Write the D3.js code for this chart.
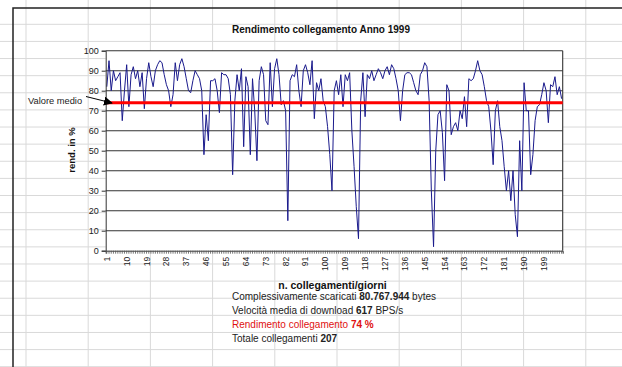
<!DOCTYPE html>
<html>
<head>
<meta charset="utf-8">
<script src="https://cdn.jsdelivr.net/npm/d3@7"></script>
<style>
  html, body { margin: 0; padding: 0; background: #fff; }
  svg { display: block; font-family: "Liberation Sans", Arial, sans-serif; }
</style>
</head>
<body>
<svg id="chart" width="622" height="367"></svg>
<script>
// ---- data ----
const categories = d3.range(1, 208); // 207 collegamenti/giorni
const rendimento = [
  82, 95, 80, 90, 85, 87, 89, 65, 80, 93,
  72, 88, 92, 86, 90, 82, 89, 71, 86, 94,
  87, 82, 90, 93, 95, 94, 88, 83, 80, 72,
  78, 94, 85, 93, 96, 92, 86, 80, 79, 85,
  90, 88, 86, 80, 48, 68, 55, 85, 85, 86,
  80, 69, 89, 88, 88, 86, 78, 38, 75, 88,
  80, 91, 52, 87, 82, 48, 86, 70, 45, 85,
  92, 88, 65, 63, 94, 72, 91, 96, 88, 73,
  75, 70, 15, 85, 88, 87, 93, 80, 72, 90,
  93, 89, 83, 95, 66, 84, 80, 86, 75, 72,
  62, 48, 30, 80, 85, 78, 88, 72, 88, 85,
  89, 60, 42, 22, 6, 75, 89, 67, 88, 86,
  90, 85, 88, 91, 89, 86, 90, 92, 88, 93,
  91, 86, 80, 65, 80, 88, 89, 89, 88, 84,
  80, 78, 88, 90, 94, 92, 75, 30, 2, 50,
  68, 70, 59, 35, 83, 80, 58, 62, 64, 60,
  70, 66, 77, 62, 86, 85, 86, 90, 95, 90,
  88, 82, 75, 72, 60, 43, 70, 75, 62, 55,
  42, 30, 40, 25, 40, 18, 7, 55, 30, 84,
  70, 70, 38, 48, 65, 72, 73, 78, 84, 80,
  64, 83, 82, 87, 78, 82, 76
];
const valoreMedio = 74;
const yTicks = [0, 10, 20, 30, 40, 50, 60, 70, 80, 90, 100];
const labelEvery = 9;
const titleText = "Rendimento collegamento Anno 1999";
const yTitle = "rend. in %";
const xTitle = "n. collegamenti/giorni";
const notes = [
  [["Complessivamente scaricati ", false], ["80.767.944", true], [" bytes", false]],
  [["Velocità media di download ", false], ["617", true], [" BPS/s", false]],
  [["Rendimento collegamento ", false], ["74 %", true]],
  [["Totale collegamenti ", false], ["207", true]]
];

// ---- drawing ----
const svg = d3.select("#chart");
const W = 622, H = 367;

// spreadsheet gridlines
const sheet = svg.append("g").attr("stroke", "#d9d9d9").attr("stroke-width", 1);
for (let k = 0; k < 10; k++) {
  const gx = 26 + k * 62.2;
  sheet.append("line").attr("x1", gx).attr("x2", gx).attr("y1", 0).attr("y2", H);
}
for (let k = 0; k <= 20; k++) {
  const gy = 24.3 + k * 17.12;
  sheet.append("line").attr("x1", 0).attr("x2", W).attr("y1", gy).attr("y2", gy);
}

// chart object frame (extends beyond the window)
svg.append("path")
  .attr("d", `M13,${H + 5} L13,8 L${W + 5},8`)
  .attr("fill", "none").attr("stroke", "#222").attr("stroke-width", 1.5);

const plot = { left: 105.7, right: 562.7, top: 50.7, bottom: 250.7 };
const x = d3.scaleBand().domain(categories).range([plot.left, plot.right]).padding(0);
const y = d3.scaleLinear().domain([0, 100]).range([plot.bottom, plot.top]);

// plot area background
svg.append("rect")
  .attr("x", plot.left).attr("y", plot.top)
  .attr("width", plot.right - plot.left).attr("height", plot.bottom - plot.top)
  .attr("fill", "#fff");

// value gridlines
svg.append("g").selectAll("line").data(yTicks.filter(d => d > 0)).join("line")
  .attr("x1", plot.left).attr("x2", plot.right)
  .attr("y1", d => y(d)).attr("y2", d => y(d))
  .attr("stroke", "#333").attr("stroke-width", 1.1);

// plot border (right side)
svg.append("line")
  .attr("x1", plot.right).attr("x2", plot.right)
  .attr("y1", plot.top).attr("y2", plot.bottom)
  .attr("stroke", "#333").attr("stroke-width", 1.1);

// data line
const line = d3.line()
  .x((d, i) => x(categories[i]) + x.bandwidth() / 2)
  .y(d => y(d));
svg.append("path").datum(rendimento)
  .attr("d", line)
  .attr("fill", "none").attr("stroke", "#1a1a8c").attr("stroke-width", 1)
  .attr("stroke-linejoin", "round");

// mean line
svg.append("line")
  .attr("x1", plot.left).attr("x2", plot.right)
  .attr("y1", y(valoreMedio)).attr("y2", y(valoreMedio))
  .attr("stroke", "#ff0000").attr("stroke-width", 3);

// y axis
const yAxis = svg.append("g")
  .attr("transform", `translate(${plot.left},0)`)
  .call(d3.axisLeft(y).tickValues(yTicks).tickSize(4).tickPadding(3));
yAxis.select(".domain").attr("stroke", "#333");
yAxis.selectAll(".tick line").attr("stroke", "#333");
yAxis.selectAll("text").attr("font-size", 9).attr("fill", "#222")
  .attr("font-family", "'Liberation Sans', Arial, sans-serif");

// x axis
const xAxis = svg.append("g")
  .attr("transform", `translate(0,${plot.bottom})`)
  .call(d3.axisBottom(x).tickValues(categories).tickSize(3).tickPadding(3)
    .tickFormat(d => ((d - 1) % labelEvery === 0 ? d : "")));
xAxis.select(".domain").attr("stroke", "#333");
xAxis.selectAll(".tick line").attr("stroke", "#555").attr("stroke-width", 0.8);
xAxis.selectAll("text")
  .attr("font-size", 8.5).attr("fill", "#222")
  .attr("font-family", "'Liberation Sans', Arial, sans-serif")
  .attr("text-anchor", "end")
  .attr("dy", "0.35em")
  .attr("transform", "translate(0,6) rotate(-90)")
  .attr("x", 0).attr("y", 0);

// title
svg.append("text")
  .attr("x", 321).attr("y", 33)
  .attr("text-anchor", "middle")
  .attr("font-size", 10).attr("font-weight", "bold").attr("fill", "#111")
  .text(titleText);

// y axis title
svg.append("text")
  .attr("transform", "translate(75,150) rotate(-90)")
  .attr("text-anchor", "middle")
  .attr("font-size", 9.5).attr("font-weight", "bold").attr("fill", "#111")
  .text(yTitle);

// x axis title
svg.append("text")
  .attr("x", 332.5).attr("y", 289)
  .attr("text-anchor", "middle")
  .attr("font-size", 10.5).attr("font-weight", "bold").attr("fill", "#111")
  .text(xTitle);

// "Valore medio" annotation with arrow
svg.append("defs").append("marker")
  .attr("id", "arrow").attr("viewBox", "0 0 10 10")
  .attr("refX", 9).attr("refY", 5)
  .attr("markerWidth", 9).attr("markerHeight", 9)
  .attr("markerUnits", "userSpaceOnUse")
  .attr("orient", "auto")
  .append("path").attr("d", "M0,0 L10,5 L0,10 Z").attr("fill", "#000");
svg.append("text")
  .attr("x", 28).attr("y", 104)
  .attr("font-size", 9.3).attr("fill", "#222")
  .text("Valore medio");
svg.append("line")
  .attr("x1", 86).attr("y1", 96.5).attr("x2", 112).attr("y2", 103)
  .attr("stroke", "#000").attr("stroke-width", 1)
  .attr("marker-end", "url(#arrow)");

// notes
const noteBase = [300.3, 314.2, 328.1, 342];
notes.forEach((parts, k) => {
  const t = svg.append("text")
    .attr("x", 232).attr("y", noteBase[k])
    .attr("font-size", 10)
    .attr("fill", k === 2 ? "#e01010" : "#222");
  parts.forEach(([s, b]) => {
    t.append("tspan").attr("font-weight", b ? "bold" : "normal").text(s);
  });
});
</script>
</body>
</html>
